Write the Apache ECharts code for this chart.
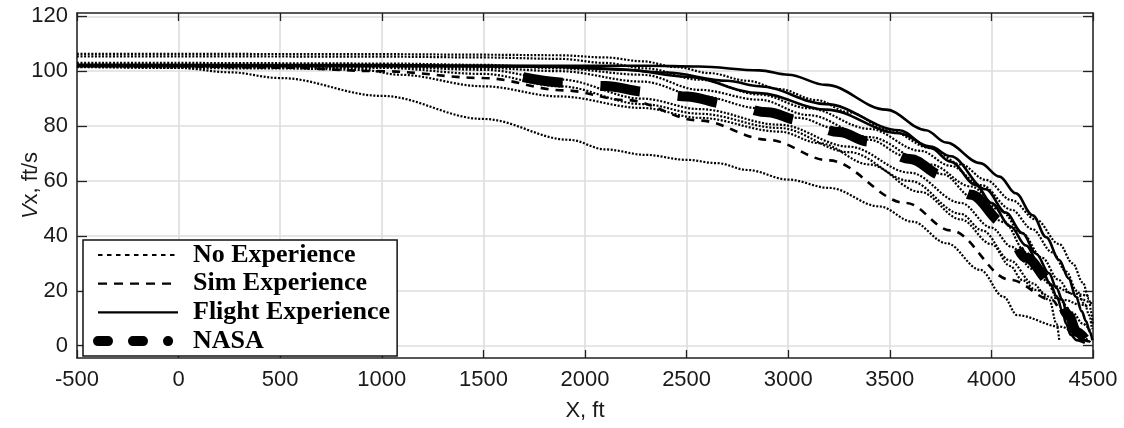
<!DOCTYPE html>
<html><head><meta charset="utf-8">
<script src="https://cdn.jsdelivr.net/npm/echarts@6/dist/echarts.min.js"></script>
<style>html,body{margin:0;padding:0;background:#fff}#c{width:1124px;height:428px}</style>
</head><body><div id="c"></div>
<script>
// ---- data (X ft, Vx ft/s) ----
const yTicks = [0, 20, 40, 60, 80, 100, 120];
const legendNames = ['No Experience', 'Sim Experience', 'Flight Experience', 'NASA'];

const noExpA = [[-500,106.3],[0,106.3],[1000,106.2],[1500,106],[1874,105.8],[2100,105],[2283,103.6],[2450,101.5],[2613,99.3],[2800,96.5],[2956,93.5],[3137,89.5],[3300,85],[3493,78.6],[3700,72],[3850,66],[3972,60.4],[4100,53],[4218,46],[4334,37],[4400,30],[4450,23],[4480,17],[4492,12],[4498,8]];
const noExpB = [[-500,105.4],[0,105.4],[1000,105.3],[1500,105],[1874,104.5],[2100,103],[2300,101],[2563,96.9],[2858,91.5],[3100,86.5],[3400,79],[3650,71],[3800,65.5],[3950,58.5],[4100,49.5],[4200,42.5],[4300,34],[4368,27],[4420,20],[4460,15],[4482,11],[4495,6]];
const noExpC = [[-500,103],[0,103],[1000,102.8],[1500,102.3],[1874,101],[2283,98.7],[2563,93.2],[2858,89.6],[3100,84],[3400,76],[3700,66],[3900,58],[4050,49],[4150,41],[4250,32],[4330,24],[4390,19],[4440,17],[4480,16],[4497,15]];
const noExpD = [[-500,102],[1000,101.8],[1500,101.2],[1874,100],[2283,96.2],[2563,91],[2858,86.5],[3050,83],[3240,79],[3400,75],[3580,69],[3760,62.5],[3908,54],[4063,45],[4170,34],[4260,25],[4330,17],[4400,12],[4450,8],[4490,5]];
const noExpE = [[-500,102],[1000,101.6],[1500,100.5],[1874,97],[2283,90],[2563,86.2],[2956,80.5],[3300,72.5],[3600,63],[3850,52],[4000,43],[4100,36],[4200,28],[4300,22],[4400,19],[4480,18]];
const noExpF = [[-500,101.8],[1000,101.2],[1500,99],[1874,94.5],[2283,88],[2563,84.5],[2956,79.3],[3300,70.5],[3600,60],[3850,48],[3955,42],[4093,31],[4203,22.7],[4286,16.6],[4320,8],[4334,2]];
const noExpG = [[-500,101.5],[500,101],[907,100.5],[1087,98.7],[1500,94.5],[1874,90.8],[2283,86.6],[2563,83],[2956,78],[3153,73.8],[3400,66],[3650,56],[3850,46],[4000,37],[4093,29],[4150,24],[4219,20.3],[4300,17.5],[4366,16.6],[4430,15],[4480,14.2]];
const noExpH = [[-500,101.8],[0,101.2],[250,99.6],[500,97.5],[1000,91],[1500,82.6],[1923,75],[2100,71.5],[2300,69.5],[2500,67.7],[2650,66.5],[2800,64],[3000,60.5],[3200,57.5],[3450,50.7],[3610,45.2],[3780,37.3],[3945,27.6],[4060,17.8],[4127,11.1],[4340,6.9],[4450,3],[4490,1]];

const simExp1 = [[-500,102],[0,101.8],[500,101.3],[1000,100],[1500,97.5],[1900,93],[2200,89.5],[2563,82],[2900,75],[3200,67.5],[3580,52],[3800,42],[4093,24],[4300,16.6],[4350,12],[4400,7],[4450,3]];

const flightExp1 = [[-500,102],[0,102],[1000,102],[2000,102],[2300,102],[2560,101.7],[2858,100.3],[3000,98.7],[3186,95],[3481,86],[3678,78.5],[3777,74],[3945,66.5],[4040,61.6],[4120,55.5],[4203,47.5],[4270,39.5],[4334,31.2],[4380,24.5],[4416,17.8],[4445,12.5],[4465,9],[4485,5],[4497,2]];
const flightExp2 = [[-500,101.8],[1000,101.8],[1800,101.6],[2100,101],[2400,99.5],[2700,96.5],[2858,94.5],[3186,88],[3546,78.5],[3700,72],[3800,67],[3924,58.5],[4000,52],[4093,43.5],[4170,36.5],[4240,28.8],[4290,22.5],[4321,18],[4350,12.5],[4367,8.1],[4390,4],[4420,2],[4460,1]];
const flightExp3 = [[-500,102.3],[1000,102.2],[1800,101.8],[2200,100.5],[2500,98],[2858,92],[3186,86],[3546,77.4],[3700,72.5],[3800,69],[3973,57],[4070,48.5],[4153,41],[4220,33.5],[4284,26.4],[4320,21],[4350,16.6],[4370,12],[4383,8.1],[4410,4],[4450,2],[4480,1.5]];

const nasa = [[1695,97.8],[1900,95.8],[2100,94.6],[2300,92.5],[2500,90.8],[2700,88],[2900,85],[3050,82.2],[3250,77.8],[3400,74.3],[3600,68],[3760,62],[3900,55],[4060,44.7],[4170,32],[4300,22.8],[4380,11],[4420,5],[4460,2.5]];

const noExpSeries = [noExpA, noExpB, noExpC, noExpD, noExpE, noExpF, noExpG, noExpH];
const simExpSeries = [simExp1];
const flightExpSeries = [flightExp1, flightExp2, flightExp3];

// ---- build ----
const series = [];
const common = {type:'line', symbol:'none', smooth:0.35, smoothMonotone:'x', animation:false, silent:true};
noExpSeries.forEach(d => series.push(Object.assign({}, common, {name:legendNames[0], data:d, z:2,
  lineStyle:{color:'#000', width:2.2, type:[2,1.6]}})));
simExpSeries.forEach(d => series.push(Object.assign({}, common, {name:legendNames[1], data:d, z:3,
  lineStyle:{color:'#000', width:2.6, type:[8,7]}})));
flightExpSeries.forEach(d => series.push(Object.assign({}, common, {name:legendNames[2], data:d, z:4,
  lineStyle:{color:'#000', width:2.6, type:'solid'}})));
series.push(Object.assign({}, common, {name:legendNames[3], data:nasa, z:5,
  lineStyle:{color:'#000', width:10, type:[40,38], cap:'butt'}}));

const axisFont = {fontFamily:'Liberation Sans, Arial, sans-serif', fontSize:22, color:'#1a1a1a'};
const gridLine = {show:true, lineStyle:{color:'#dedede', width:1.6}};
const chart = echarts.init(document.getElementById('c'), null, {renderer:'canvas'});
chart.setOption({
  animation:false,
  backgroundColor:'#fff',
  grid:{left:77, right:31, top:13, bottom:70, show:false, containLabel:false, outerBoundsMode:'none'},
  xAxis:[
    {type:'value', min:-500, max:4500, interval:500, position:'bottom',
     axisLine:{show:true, onZero:false, lineStyle:{color:'#222', width:1.5}},
     axisTick:{show:true, inside:true, length:8, lineStyle:{color:'#222', width:1.3}},
     axisLabel:Object.assign({margin:11, formatter:v => String(v)}, axisFont),
     splitLine:gridLine,
     name:'X, ft', nameLocation:'middle', nameGap:42, nameMoveOverlap:false,
     nameTextStyle:Object.assign({}, axisFont)},
    {type:'value', min:-500, max:4500, interval:500, position:'top',
     axisLine:{show:true, onZero:false, lineStyle:{color:'#222', width:1.5}},
     axisTick:{show:true, inside:true, length:8, lineStyle:{color:'#222', width:1.3}},
     axisLabel:{show:false}, splitLine:{show:false}}
  ],
  yAxis:[
    {type:'value', min:-4.5, max:121.2, position:'left',
     axisLine:{show:true, onZero:false, lineStyle:{color:'#222', width:1.5}},
     axisTick:{show:true, inside:true, length:10, customValues:yTicks, lineStyle:{color:'#222', width:1.3}},
     axisLabel:Object.assign({margin:9, customValues:yTicks, formatter:v => String(v)}, axisFont),
     splitLine:gridLine,
     name:'{i|V}x, ft/s', nameLocation:'middle', nameGap:35, nameMoveOverlap:false,
     nameTextStyle:Object.assign({rich:{i:Object.assign({fontStyle:'italic'}, axisFont)}}, axisFont)},
    {type:'value', min:-4.5, max:121.2, position:'right',
     axisLine:{show:true, onZero:false, lineStyle:{color:'#222', width:1.5}},
     axisTick:{show:true, inside:true, length:10, customValues:yTicks, lineStyle:{color:'#222', width:1.3}},
     axisLabel:{show:false}, splitLine:{show:false}}
  ],
  legend:{
    show:true, orient:'vertical', left:83, top:240,
    backgroundColor:'#fff', borderColor:'#111', borderWidth:1.5,
    padding:[2, 7, 2, 10], itemGap:2.7, itemWidth:80, itemHeight:12,
    selectedMode:false,
    itemStyle:{opacity:0},
    textStyle:{fontFamily:'Liberation Serif, Times New Roman, serif', fontWeight:'bold', fontSize:26, color:'#000', lineHeight:26, padding:[0,0,0,10]},
    data:[
      {name:legendNames[0], itemStyle:{opacity:0}, lineStyle:{width:2, type:[4.5,4.5]}},
      {name:legendNames[1], itemStyle:{opacity:0}, lineStyle:{width:2.2, type:[9,7]}},
      {name:legendNames[2], itemStyle:{opacity:0}, lineStyle:{width:2.4, type:'solid'}},
      {name:legendNames[3], itemStyle:{opacity:0}, lineStyle:{width:10, type:[10,25,10,25,0.1,300], cap:'round'}}
    ]
  },
  series: series
});
</script></body></html>
